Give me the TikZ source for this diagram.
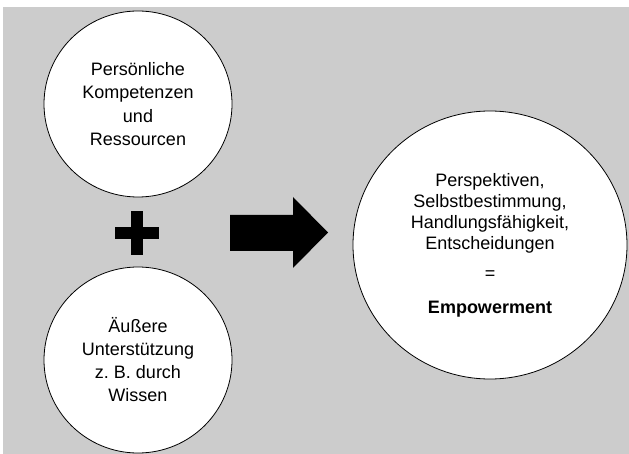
\documentclass[tikz,border=0pt]{standalone}
\usepackage{fontspec}
\setmainfont{Liberation Sans}
\usetikzlibrary{shapes.geometric}
\definecolor{panel}{HTML}{CCCCCC}
\begin{document}
\begin{tikzpicture}[x=1pt,y=-1pt,
  bubble/.style={ellipse, draw=black, line width=0.8pt, fill=white,
    inner sep=0pt, align=center},
  smallbubble/.style={bubble, minimum width=188pt, minimum height=186pt,
    font=\fontsize{18}{22}\selectfont},
  bigbubble/.style={bubble, minimum width=274pt, minimum height=268pt,
    font=\fontsize{18}{21}\selectfont},
  symbol/.style={fill=black}]
\useasboundingbox (0,0) rectangle (629,454);
% grey panel
\fill[panel] (3,7) rectangle (629,454);
% the two input bubbles
\node[smallbubble] (personal) at (138,104)
  {Persönliche\\[1.5pt]Kompetenzen\\[1.5pt]und\\[1.5pt]Ressourcen};
\node[smallbubble] (external) at (138,360)
  {Äußere\\[1pt]Unterstützung\\[1pt]z.\ B. durch\\[1pt]Wissen};
% result bubble
\node[bigbubble] (result) at (490,245)
  {Perspektiven,\\Selbstbestimmung,\\Handlungsfähigkeit,\\Entscheidungen\\[9pt]
   =\\[13pt]\textbf{Empowerment}};
% plus sign between the inputs
\fill[symbol] (131,211) rectangle (143,255);
\fill[symbol] (115,227) rectangle (159,239);
% block arrow towards the result
\fill[symbol] (230,215) -- (293,215) -- (293,197) -- (328,232.5)
  -- (293,268) -- (293,251) -- (230,251) -- cycle;
\end{tikzpicture}
\end{document}
